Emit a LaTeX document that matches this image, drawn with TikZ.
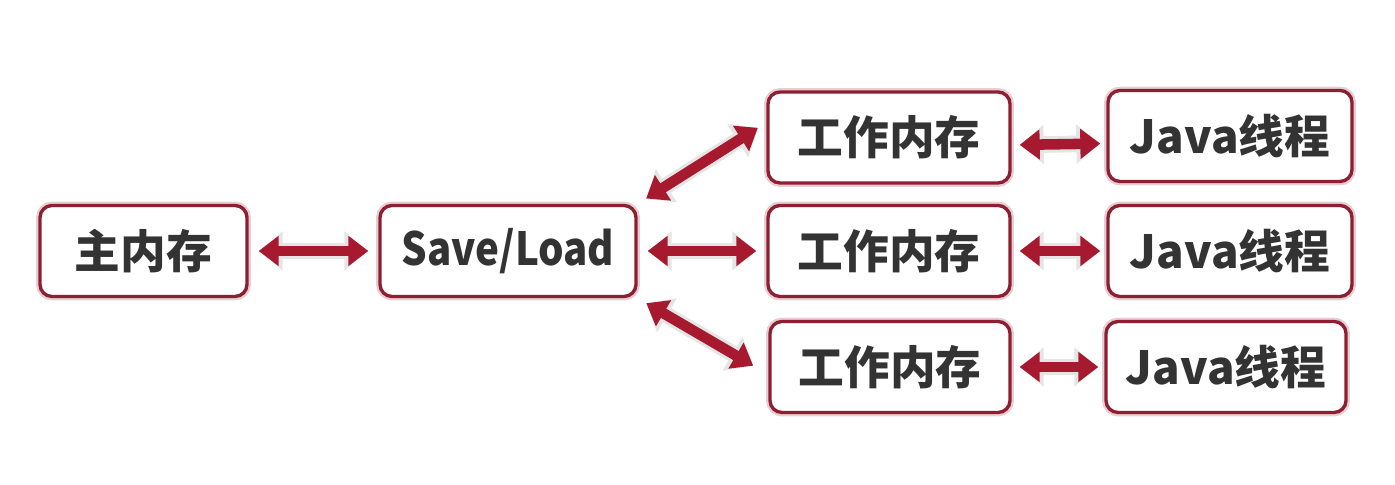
\documentclass[tikz,border=0pt]{standalone}
\usepackage{fontspec}
\usepackage{tikz}
\usetikzlibrary{arrows.meta}
\newfontfamily\cjk{Noto Sans CJK SC}
\newfontfamily\latn{Noto Sans CJK SC}[FakeStretch=0.88]
\definecolor{boxred}{HTML}{8E1F33}
\definecolor{arrred}{HTML}{A6192E}
\definecolor{txtgray}{HTML}{333333}

\begin{document}
\begin{tikzpicture}[
  membox/.style={draw=boxred, line width=1.9pt, rounded corners=0.24cm, fill=white,
    preaction={draw=boxred!22, line width=4.5pt},
    minimum height=1.82cm, text=txtgray, font=\cjk\bfseries\fontsize{26}{30}\selectfont},
  dblarrow/.style={draw=arrred, line width=6pt,
    {Triangle[length=0.4cm,width=0.58cm]}-{Triangle[length=0.4cm,width=0.58cm]},
    preaction={draw=black!10, line width=9.5pt,
      {Triangle[length=0.48cm,width=0.76cm]}-{Triangle[length=0.48cm,width=0.76cm]}},
    shorten <=0.2cm, shorten >=0.2cm}
]
\useasboundingbox (0,0) rectangle (27.9,9.7);
\node[membox, minimum width=4.14cm] (main) at (2.87,4.68) {主内存};
\node[membox, minimum width=5.12cm] (sl) at (10.16,4.68) {\latn\bfseries Save/Load};
\node[membox, minimum width=4.84cm] (w1) at (17.78,6.95) {工作内存};
\node[membox, minimum width=4.84cm] (w2) at (17.78,4.68) {工作内存};
\node[membox, minimum width=4.8cm] (w3) at (17.8,2.36) {工作内存};
\node[membox, minimum width=4.88cm] (j1) at (24.6,6.98) {Java线程};
\node[membox, minimum width=4.88cm] (j2) at (24.6,4.68) {Java线程};
\node[membox, minimum width=4.8cm] (j3) at (24.52,2.36) {Java线程};
% main memory <-> save/load
\draw[dblarrow] (main.east) -- (sl.west);
% save/load <-> working memory
\draw[dblarrow] (sl.north east) -- ([yshift=0.3cm]w1.west);
\draw[dblarrow] (sl.east) -- (w2.west);
\draw[dblarrow, shorten >=0.35cm] (sl.south east) -- ([yshift=-0.15cm]w3.west);
% working memory <-> threads
\draw[dblarrow, shorten <=0.16cm, shorten >=0.12cm] ([yshift=-0.15cm]w1.east) -- ([yshift=-0.15cm]j1.west);
\draw[dblarrow, shorten <=0.16cm, shorten >=0.12cm] (w2.east) -- (j2.west);
\draw[dblarrow, shorten <=0.16cm, shorten >=0.12cm] (w3.east) -- (j3.west);
\end{tikzpicture}
\end{document}
